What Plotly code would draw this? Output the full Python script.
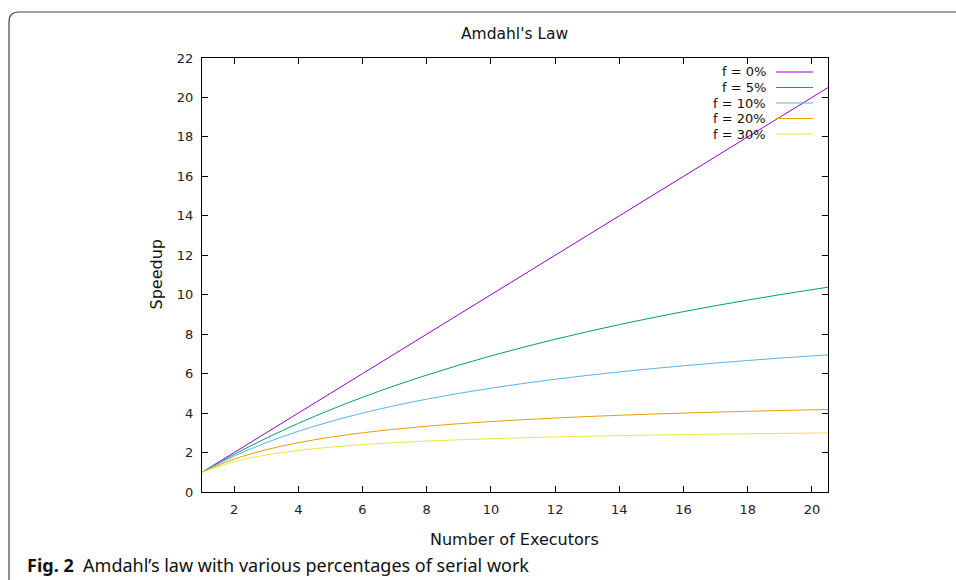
import plotly.graph_objects as go

executors = [1, 2, 3, 4, 5, 6, 7, 8, 9, 10, 11, 12, 13, 14, 15, 16, 17, 18, 19, 20, 20.5]
speedup_f0 = [1, 2, 3, 4, 5, 6, 7, 8, 9, 10, 11, 12, 13, 14, 15, 16, 17, 18, 19, 20, 20.5]
speedup_f5 = [1, 1.905, 2.727, 3.478, 4.167, 4.8, 5.385, 5.926, 6.429, 6.897, 7.333,
              7.742, 8.125, 8.485, 8.824, 9.143, 9.444, 9.73, 10.0, 10.256, 10.38]
speedup_f10 = [1, 1.818, 2.5, 3.077, 3.571, 4.0, 4.375, 4.706, 5.0, 5.263, 5.5,
               5.714, 5.909, 6.087, 6.25, 6.4, 6.538, 6.667, 6.786, 6.897, 6.949]
speedup_f20 = [1, 1.667, 2.143, 2.5, 2.778, 3.0, 3.182, 3.333, 3.462, 3.571, 3.667,
               3.75, 3.824, 3.889, 3.947, 4.0, 4.048, 4.091, 4.13, 4.167, 4.184]
speedup_f30 = [1, 1.538, 1.875, 2.105, 2.273, 2.4, 2.5, 2.581, 2.647, 2.703, 2.75,
               2.791, 2.826, 2.857, 2.885, 2.909, 2.931, 2.951, 2.969, 2.985, 2.993]

series_names = ["f = 0%", "f = 5%", "f = 10%", "f = 20%", "f = 30%"]
series_values = [speedup_f0, speedup_f5, speedup_f10, speedup_f20, speedup_f30]
colors = ["#9400d3", "#009e73", "#56b4e9", "#e69f00", "#f0e442"]

x_ticks = [2, 4, 6, 8, 10, 12, 14, 16, 18, 20]
y_ticks = [0, 2, 4, 6, 8, 10, 12, 14, 16, 18, 20, 22]

W, H = 956, 580
L, R, T, B = 202, 828, 58, 492
pw, ph = R - L, B - T


def px(x):
    return (x - L) / pw


def py(y):
    return (B - y) / ph


fig = go.Figure()
for name, vals, c in zip(series_names, series_values, colors):
    fig.add_trace(go.Scatter(x=executors, y=vals, mode="lines", name=name,
                             line=dict(color=c, width=1, shape="spline"),
                             showlegend=False))

tickfont = dict(family="DejaVu Sans", size=13, color="#222")
fig.update_xaxes(range=[1, 20.5], tickvals=x_ticks, ticks="inside", ticklen=6,
                 tickcolor="#000", mirror="ticks", showline=True, linecolor="#000",
                 linewidth=1.3, showgrid=False, zeroline=False, tickfont=tickfont,
                 ticklabelstandoff=5)
fig.update_yaxes(range=[0, 22], tickvals=y_ticks, ticks="inside", ticklen=6,
                 tickcolor="#000", mirror="ticks", showline=True, linecolor="#000",
                 linewidth=1.3, showgrid=False, zeroline=False, tickfont=tickfont,
                 ticklabelstandoff=5)


def ann(text, x, y, size, family="DejaVu Sans", xanchor="center", **kw):
    return dict(text=text, x=px(x), y=py(y), xref="paper", yref="paper",
                xanchor=xanchor, yanchor="middle", showarrow=False,
                font=dict(family=family, size=size, color="#111"), **kw)


annotations = [
    ann("Amdahl's Law", 515, 34, 15.5),
    ann("Number of Executors", 514, 539, 16),
    ann("Speedup", 155.5, 275, 16, textangle=-90),
    ann("<b>Fig. 2</b>  Amdahl’s law with various percentages of serial work",
        25, 565, 18, family="Noto Sans", xanchor="left"),
]
shapes = []
legend_rows = [72, 87.5, 103, 118.5, 134]
for name, c, ry in zip(series_names, colors, legend_rows):
    annotations.append(ann(name, 768, ry, 13, xanchor="right"))
    shapes.append(dict(type="line", xref="paper", yref="paper", x0=px(776), x1=px(813),
                       y0=py(ry), y1=py(ry), line=dict(color=c, width=1.2)))

# page frame with rounded top-left corner
x0, xt, yb, yt, r = px(9), px(970), py(590), py(12), 10
path = (f"M {x0},{yb} L {x0},{py(12 + r)} Q {x0},{yt} {px(9 + r)},{yt} L {xt},{yt}")
shapes.append(dict(type="path", xref="paper", yref="paper", path=path,
                   line=dict(color="#444", width=1.2)))

fig.update_layout(width=W, height=H, margin=dict(l=L, r=W - R, t=T, b=H - B),
                  plot_bgcolor="white", paper_bgcolor="white",
                  annotations=annotations, shapes=shapes)

fig.write_html("out.html")
